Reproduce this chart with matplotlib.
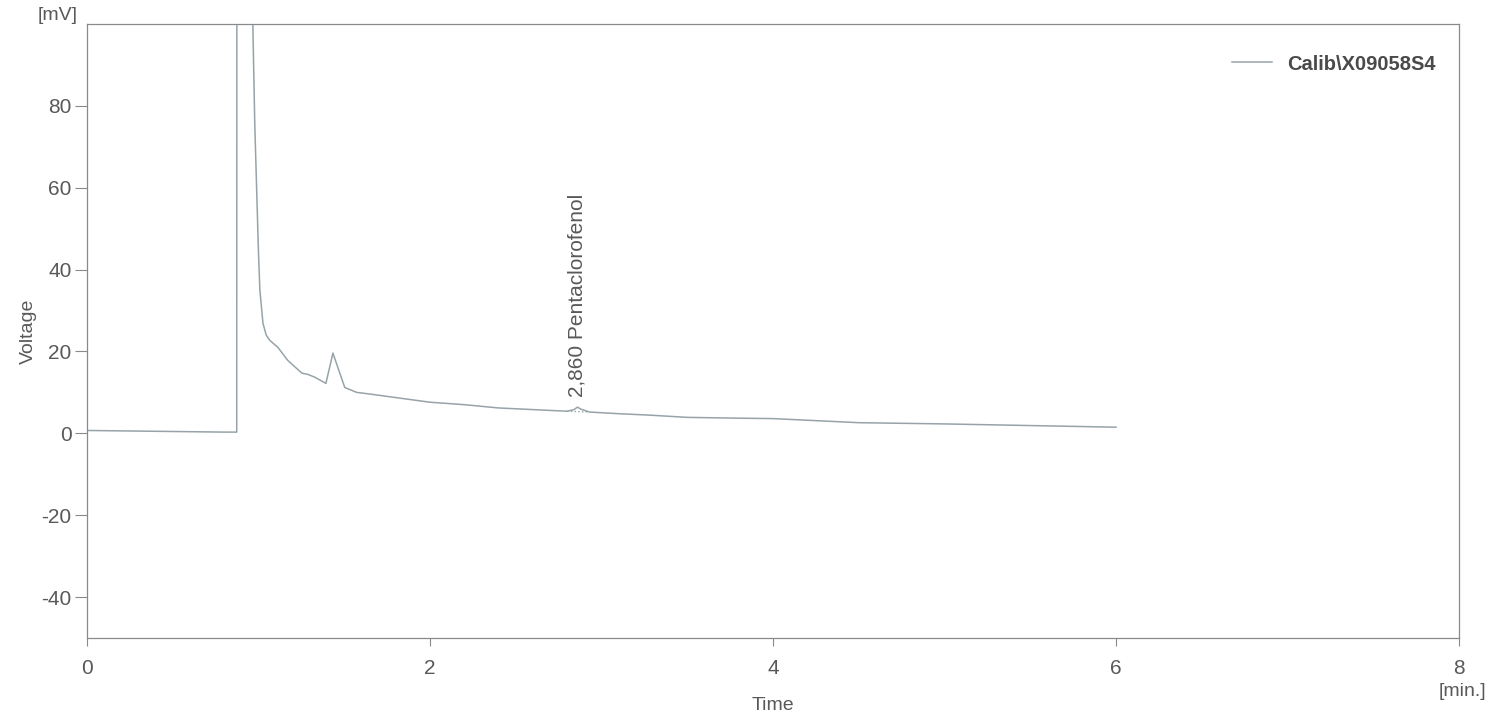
import matplotlib.pyplot as plt

plt.rcParams['font.family'] = ['Liberation Sans', 'DejaVu Sans']
plt.rcParams['axes.unicode_minus'] = False

# chromatogram trace
time_min = [0.00, 0.20, 0.40, 0.60, 0.80, 0.873, 0.875, 0.955, 0.967, 0.978,
            0.991, 1.000, 1.008, 1.026, 1.045, 1.066, 1.113, 1.171, 1.253,
            1.288, 1.329, 1.393, 1.434, 1.503, 1.573, 1.667, 1.824, 2.00,
            2.20, 2.40, 2.60, 2.80, 2.84, 2.86, 2.88, 2.93, 3.10, 3.30, 3.50,
            3.80, 4.00, 4.50, 5.00, 5.50, 6.00]
voltage_mv = [0.7, 0.6, 0.5, 0.4, 0.3, 0.3, 250, 250, 99.8, 76.0,
              57.0, 44.0, 35.0, 26.9, 24.0, 22.7, 21.0, 17.8, 14.7,
              14.4, 13.7, 12.2, 19.6, 11.2, 10.0, 9.5, 8.6, 7.6,
              7.0, 6.2, 5.8, 5.4, 5.8, 6.4, 5.9, 5.2, 4.8, 4.4, 3.9,
              3.7, 3.6, 2.6, 2.3, 1.9, 1.5]

peak_time = 2.860
peak_name = "Pentaclorofenol"
peak_base_t = [2.80, 2.93]
peak_base_v = [5.4, 5.2]

series_name = "Calib\\X09058S4"
x_ticks = [0, 2, 4, 6, 8]
y_ticks = [-40, -20, 0, 20, 40, 60, 80]

text_col = '#595959'
axis_col = '#8a8a8a'
line_col = '#97a3a8'

fig = plt.figure(figsize=(15.03, 7.17), dpi=100)
ax = fig.add_axes([87 / 1503, 1 - 638 / 717, (1459 - 87) / 1503, (638 - 24) / 717])

ax.plot(time_min, voltage_mv, color=line_col, lw=1.1, label=series_name)
ax.plot(peak_base_t, peak_base_v, color=line_col, lw=1.0, ls=':')

ax.text(peak_time, 8.8, f"{peak_time:.3f}".replace('.', ',') + " " + peak_name,
        rotation=90, ha='center', va='bottom', fontsize=15, color=text_col)

ax.set_xlim(0, 8)
ax.set_ylim(-50, 100)
ax.set_xticks(x_ticks)
ax.set_yticks(y_ticks)

for s in ax.spines.values():
    s.set_color(axis_col)
    s.set_linewidth(0.9)

ax.tick_params(axis='y', direction='out', length=9, width=0.8, pad=2,
               colors=axis_col, labelcolor=text_col, labelsize=15)
ax.tick_params(axis='x', direction='out', length=6, width=0.8, pad=9,
               colors=axis_col, labelcolor=text_col, labelsize=15)

ax.set_xlabel("Time", fontsize=14, color=text_col, labelpad=14)
ax.set_ylabel("Voltage", fontsize=14, color=text_col, labelpad=3)

fig.text(78 / 1503, 1 - 16 / 717, "[mV]", ha='right', va='center',
         fontsize=14, color=text_col)
fig.text(1462 / 1503, 1 - 691 / 717, "[min.]", ha='center', va='center',
         fontsize=14, color=text_col)

leg = ax.legend(loc='center left', bbox_to_anchor=(1232 / 1503, 1 - 64 / 717),
                bbox_transform=fig.transFigure, frameon=False, borderpad=0,
                borderaxespad=0, handlelength=2.0, handletextpad=0.75,
                prop={'size': 14.5, 'weight': 'bold'})
for t in leg.get_texts():
    t.set_color('#4a4a4a')

fig.savefig("out.png", dpi=100)
